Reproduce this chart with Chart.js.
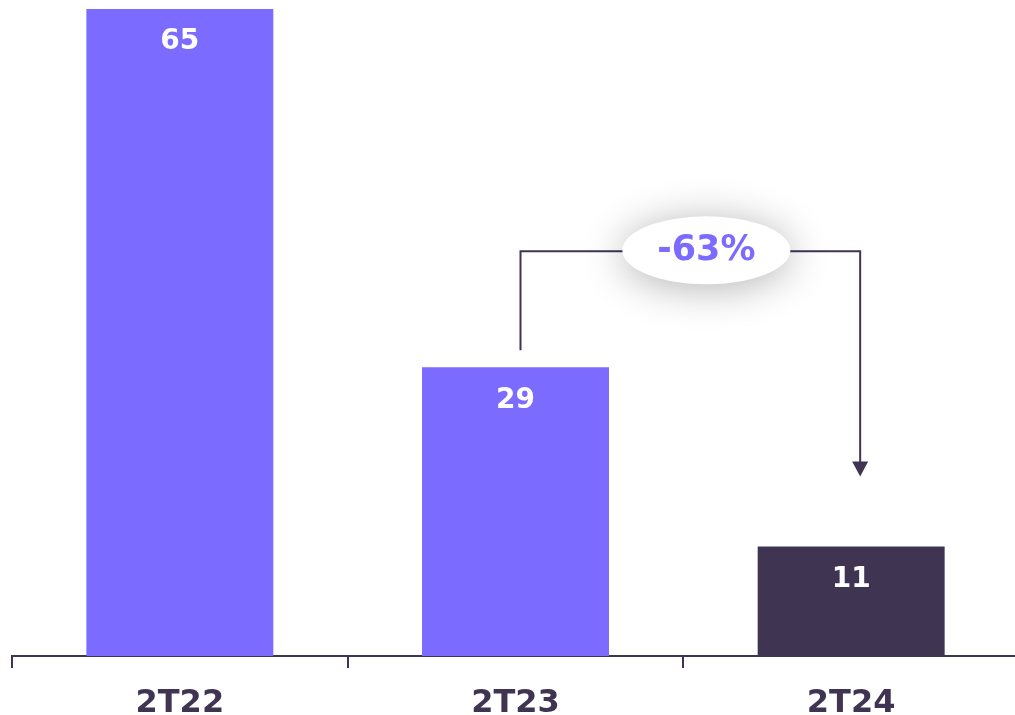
<!DOCTYPE html>
<html>
<head>
<meta charset="utf-8">
<script src="https://cdn.jsdelivr.net/npm/chart.js@4"></script>
<style>
html,body{margin:0;padding:0;background:#fff;overflow:hidden;}
#wrap{position:absolute;left:0;top:0;width:1019px;height:715px;}
</style>
</head>
<body>
<div id="wrap"><canvas id="c"></canvas></div>
<script>
const categories = ['2T22', '2T23', '2T24'];
const values = [65, 29, 11];
const barColors = ['#7b6cff', '#7b6cff', '#3f3553'];
const changeLabel = '-63%';

const DARK = '#3f3553';
const FONT = "'DejaVu Sans', Verdana, sans-serif";

const labelPlugin = {
  id: 'barLabels',
  afterDatasetsDraw(chart) {
    const ctx = chart.ctx;
    const meta = chart.getDatasetMeta(0);
    ctx.save();
    ctx.font = 'bold 28px ' + FONT;
    ctx.fillStyle = '#ffffff';
    ctx.textAlign = 'center';
    ctx.textBaseline = 'middle';
    meta.data.forEach((bar, i) => {
      ctx.fillText(String(values[i]), bar.x, bar.y + 33);
    });
    ctx.restore();
  }
};

const bracketPlugin = {
  id: 'bracket',
  afterDatasetsDraw(chart) {
    const ctx = chart.ctx;
    const meta = chart.getDatasetMeta(0);
    const b1 = meta.data[1], b2 = meta.data[2];
    const topY = b1.y - 116;
    const startY = b1.y - 17;
    const tipY = b2.y - 70;
    ctx.save();
    ctx.strokeStyle = DARK;
    ctx.lineWidth = 2;
    ctx.beginPath();
    ctx.moveTo(b1.x + 5, startY);
    ctx.lineTo(b1.x + 5, topY);
    ctx.lineTo(b2.x + 9, topY);
    ctx.lineTo(b2.x + 9, tipY - 14);
    ctx.stroke();
    ctx.fillStyle = DARK;
    ctx.beginPath();
    ctx.moveTo(b2.x + 1, tipY - 15);
    ctx.lineTo(b2.x + 17, tipY - 15);
    ctx.lineTo(b2.x + 9, tipY);
    ctx.closePath();
    ctx.fill();
    // ellipse with shadow
    const cx = (b1.x + b2.x) / 2 + 23;
    const cy = topY - 1;
    ctx.shadowColor = 'rgba(0,0,0,0.3)';
    ctx.shadowBlur = 40;
    ctx.shadowOffsetY = 4;
    ctx.fillStyle = '#ffffff';
    ctx.beginPath();
    ctx.ellipse(cx, cy, 84, 34, 0, 0, Math.PI * 2);
    ctx.fill();
    ctx.shadowColor = 'transparent';
    ctx.shadowBlur = 0;
    ctx.shadowOffsetY = 0;
    ctx.font = 'bold 35px ' + FONT;
    ctx.fillStyle = '#7b6cff';
    ctx.textAlign = 'center';
    ctx.textBaseline = 'middle';
    ctx.fillText(changeLabel, cx, cy + 1);
    ctx.restore();
  }
};

new Chart(document.getElementById('c'), {
  type: 'bar',
  data: {
    labels: categories,
    datasets: [{
      data: values,
      backgroundColor: barColors,
      borderWidth: 0,
      barPercentage: 1,
      categoryPercentage: 0.557
    }]
  },
  options: {
    responsive: true,
    maintainAspectRatio: false,
    animation: false,
    layout: { padding: { top: 9, left: 12, right: 0, bottom: -24 } },
    plugins: { legend: { display: false }, tooltip: { enabled: false } },
    scales: {
      x: {
        grid: { display: true, drawOnChartArea: false, drawTicks: true, tickLength: 12, color: DARK, lineWidth: 2, offset: true },
        border: { display: true, color: DARK, width: 2 },
        ticks: { color: DARK, font: { family: FONT, size: 32, weight: 'bold', lineHeight: 0.97 }, padding: 20 }
      },
      y: {
        display: false,
        min: 0,
        max: 65
      }
    }
  },
  plugins: [labelPlugin, bracketPlugin]
});
</script>
</body>
</html>
